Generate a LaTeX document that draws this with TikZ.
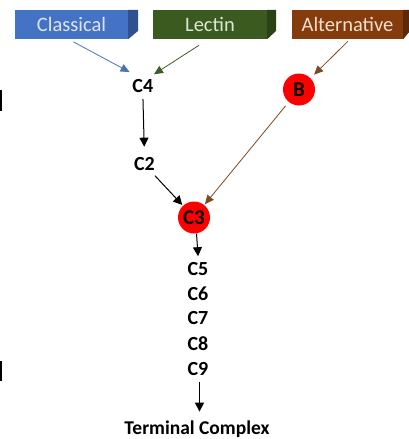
\documentclass[tikz,border=0pt]{standalone}
\usepackage{fontspec}
\setmainfont{Carlito}
\usetikzlibrary{arrows.meta}
\definecolor{clsfront}{HTML}{4472C4}
\definecolor{clsside}{HTML}{2F528F}
\definecolor{clstext}{HTML}{DCE4F2}
\definecolor{lecfront}{HTML}{3B5A1F}
\definecolor{lecside}{HTML}{2A4215}
\definecolor{lectext}{HTML}{DDE6D2}
\definecolor{altfront}{HTML}{843C0C}
\definecolor{altside}{HTML}{5C2A08}
\definecolor{alttext}{HTML}{F4E0D0}
\definecolor{bluearr}{HTML}{4A72B8}
\definecolor{greenarr}{HTML}{3E5B2A}
\definecolor{brownarr}{HTML}{7A4A20}
\begin{document}
\begin{tikzpicture}[x=1pt,y=-1pt,
  pathbox/.style={inner sep=0pt, minimum height=29pt, font=\fontsize{20.5}{20.5}\selectfont},
  lbl/.style={inner sep=0pt, font=\fontsize{20}{20}\selectfont\bfseries},
  redc/.style={circle, fill=red, inner sep=0pt, minimum size=32pt, font=\fontsize{21}{21}\selectfont\bfseries},
  colarr/.style={line width=0.8pt, -{Triangle[length=9pt,width=8pt]}},
  blkarr/.style={line width=1pt, black, -{Triangle[length=9pt,width=9pt]}}]
\useasboundingbox (0,0) rectangle (409,439);
% left bars
\fill[black] (0,90) rectangle (2,111);
\fill[black] (0,361) rectangle (2,381);
% pathway boxes
\node[pathbox, fill=clsfront, text=clstext, minimum width=113pt] (cls) at (71.5,24.5) {Classical};
\fill[clsside] (cls.north east) -- ++(10,0) -- ++(0,21) -- (cls.south east) -- cycle;
\node[pathbox, fill=lecfront, text=lectext, minimum width=114pt] (lec) at (210,24.5) {Lectin};
\fill[lecside] (lec.north east) -- ++(9,0) -- ++(0,21) -- (lec.south east) -- cycle;
\node[pathbox, fill=altfront, text=alttext, minimum width=111pt] (alt) at (347.5,24.5) {Alternative};
\fill[altside] (alt.north east) -- ++(7,0) -- ++(0,21) -- (alt.south east) -- cycle;
% components
\node[lbl] (c4) at (142.8,86) {C4};
\node[lbl] (c2) at (144.5,164.5) {C2};
\node[redc] (c3) at (194,217.5) {C3};
\node[redc] (b) at (299,89.5) {B};
\node[lbl] (c5) at (198,269) {C5};
\node[lbl] (c6) at (198,293.5) {C6};
\node[lbl] (c7) at (198,318.5) {C7};
\node[lbl] (c8) at (198,344) {C8};
\node[lbl] (c9) at (198,369) {C9};
\node[lbl, anchor=base, font=\fontsize{19.5}{19.5}\selectfont\bfseries] (term) at (197,434.5) {Terminal Complex};
% connectors
\draw[colarr, bluearr, shorten <=5.5pt, shorten >=15pt] ([xshift=-3pt]cls.south) -- (c4.north);
\draw[colarr, greenarr, shorten <=11pt, shorten >=9pt] ([xshift=-1.6pt]lec.south) -- ([xshift=3.6pt]c4.north);
\draw[colarr, brownarr, shorten <=3pt, shorten >=5pt] ([xshift=2.5pt]alt.south) -- (b);
\draw[blkarr, shorten <=6pt, shorten >=11pt] (c4.south) -- (c2.north);
\draw[blkarr, shorten <=6pt, shorten >=1pt] (c2) -- (c3);
\draw[colarr, brownarr, shorten <=5pt, shorten >=1pt] (b) -- (c3);
\draw[blkarr, shorten >=6pt] ([xshift=2.5pt]c3.south) -- ([xshift=0.5pt]c5.north);
\draw[blkarr, shorten <=6pt, shorten >=9pt] ([xshift=1.5pt]c9.south) -- ([xshift=2.5pt]term.north);
\end{tikzpicture}
\end{document}
